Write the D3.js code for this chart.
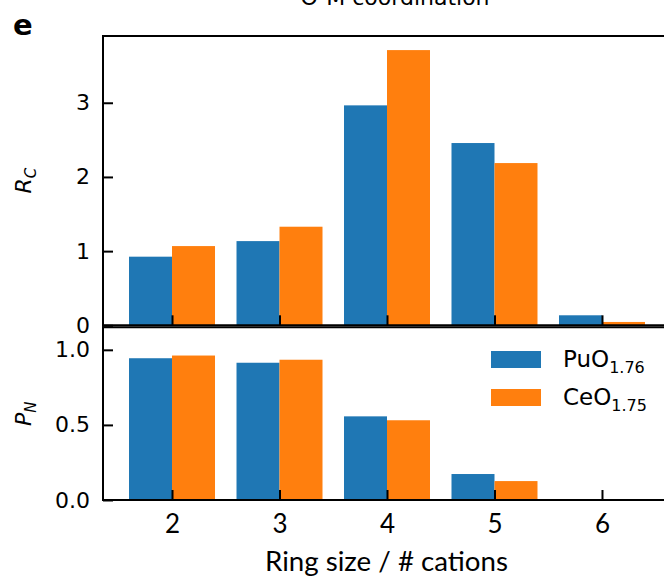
<!DOCTYPE html>
<html>
<head>
<meta charset="utf-8">
<script src="https://cdn.jsdelivr.net/npm/d3@7"></script>
<style>
  html, body { margin: 0; padding: 0; background: #fff; }
  svg { display: block; }
</style>
</head>
<body>
<svg id="chart" width="664" height="577"></svg>
<script>
// ---- data ----
const ringSizes = [2, 3, 4, 5, 6];
const seriesNames = ["PuO", "CeO"];
const seriesSubs = ["1.76", "1.75"];
const rcPuO = [0.925, 1.135, 2.965, 2.457, 0.135];
const rcCeO = [1.068, 1.329, 3.71, 2.187, 0.045];
const pnPuO = [0.944, 0.914, 0.557, 0.173, 0.0];
const pnCeO = [0.962, 0.934, 0.531, 0.126, 0.0];
const rcTicks = [0, 1, 2, 3];
const pnTicks = [0.0, 0.5, 1.0];
const colors = ["#1f77b4", "#ff7f0e"];

const svg = d3.select("#chart");
const left = 103, right = 671;
const topA = 36, botA = 325.3;
const topB = 327.3, botB = 500;

const x = d3.scaleLinear().domain([1.358, 6.642]).range([left, right]);
const yA = d3.scaleLinear().domain([0, 3.9]).range([botA, topA]);
const yB = d3.scaleLinear().domain([0, 1.15]).range([botB, topB]);
const barW = 0.4;

function drawBars(data, y, base) {
  data.forEach((vals, si) => {
    svg.append("g").selectAll("rect").data(ringSizes.map((r, i) => ({r, v: vals[i]})))
      .join("rect")
      .attr("x", d => x(d.r + (si === 0 ? -barW : 0)))
      .attr("width", d => x(d.r + barW) - x(d.r))
      .attr("y", d => y(d.v))
      .attr("height", d => Math.max(0, base - y(d.v)))
      .attr("fill", colors[si]);
  });
}
drawBars([rcPuO, rcCeO], yA, botA);
drawBars([pnPuO, pnCeO], yB, botB);

const tickFont = "'DejaVu Sans', sans-serif";
const xFont = "Lato, 'Open Sans', sans-serif";

function styleAxis(g, font, size) {
  g.select(".domain").remove();
  g.selectAll(".tick line").attr("stroke", "#000").attr("stroke-width", 2);
  g.selectAll(".tick text").attr("font-family", font).attr("font-size", size).attr("fill", "#000");
}

// y axes
svg.append("g").attr("transform", `translate(${left},0)`)
  .call(d3.axisLeft(yA).tickValues(rcTicks).tickSizeInner(-10).tickSizeOuter(0).tickPadding(13).tickFormat(d3.format("d")))
  .call(g => styleAxis(g, tickFont, 22));
svg.append("g").attr("transform", `translate(${left},0)`)
  .call(d3.axisLeft(yB).tickValues(pnTicks).tickSizeInner(-10).tickSizeOuter(0).tickPadding(13).tickFormat(d3.format(".1f")))
  .call(g => styleAxis(g, tickFont, 22));

// x axes
svg.append("g").attr("transform", `translate(0,${botA})`)
  .call(d3.axisBottom(x).tickValues(ringSizes).tickSizeInner(-10).tickSizeOuter(0).tickFormat(""))
  .call(g => styleAxis(g, xFont, 22));
svg.append("g").attr("transform", `translate(0,${botB})`)
  .call(d3.axisBottom(x).tickValues(ringSizes).tickSizeInner(-10).tickSizeOuter(0).tickPadding(15).tickFormat(d3.format("d")))
  .call(g => styleAxis(g, xFont, 26));

// spines
const spine = (x1, y1, x2, y2) => svg.append("line").attr("x1", x1).attr("y1", y1).attr("x2", x2).attr("y2", y2)
  .attr("stroke", "#000").attr("stroke-width", 2).attr("stroke-linecap", "square");
spine(left, topA, right, topA);
spine(left, botA, right, botA);
spine(left, topA, left, botA);
spine(left, topB, right, topB);
spine(left, botB, right, botB);
spine(left, topB, left, botB);

// x label
svg.append("text").attr("x", 265).attr("y", 571)
  .attr("font-family", xFont).attr("font-size", 27)
  .attr("textLength", 243).attr("lengthAdjust", "spacingAndGlyphs")
  .text("Ring size / # cations");

// y labels
function yLabel(main, sub, cy) {
  const t = svg.append("text").attr("transform", `translate(31,${cy}) rotate(-90)`)
    .attr("text-anchor", "middle").attr("font-family", tickFont).attr("font-size", 22).attr("font-style", "italic");
  t.append("tspan").text(main);
  t.append("tspan").attr("font-size", 15).attr("dy", 5).text(sub);
}
yLabel("R", "C", (topA + botA) / 2);
yLabel("P", "N", (topB + botB) / 2);

// title (cut off at top, as in the reference) and panel letter
svg.append("text").attr("x", 395).attr("y", 5).attr("text-anchor", "middle")
  .attr("font-family", tickFont).attr("font-size", 22).text("O-M coordination");
svg.append("text").attr("x", 13).attr("y", 35)
  .attr("font-family", tickFont).attr("font-size", 29).attr("font-weight", "bold").text("e");

// legend
const leg = svg.append("g");
seriesNames.forEach((name, i) => {
  const yy = 351 + i * 38;
  leg.append("rect").attr("x", 491).attr("y", yy).attr("width", 50).attr("height", 17).attr("fill", colors[i]);
  const t = leg.append("text").attr("x", 563).attr("y", yy + 16)
    .attr("font-family", tickFont).attr("font-size", 23);
  t.append("tspan").text(name);
  t.append("tspan").attr("font-size", 16).attr("dy", 5.5).text(seriesSubs[i]);
});
</script>
</body>
</html>
